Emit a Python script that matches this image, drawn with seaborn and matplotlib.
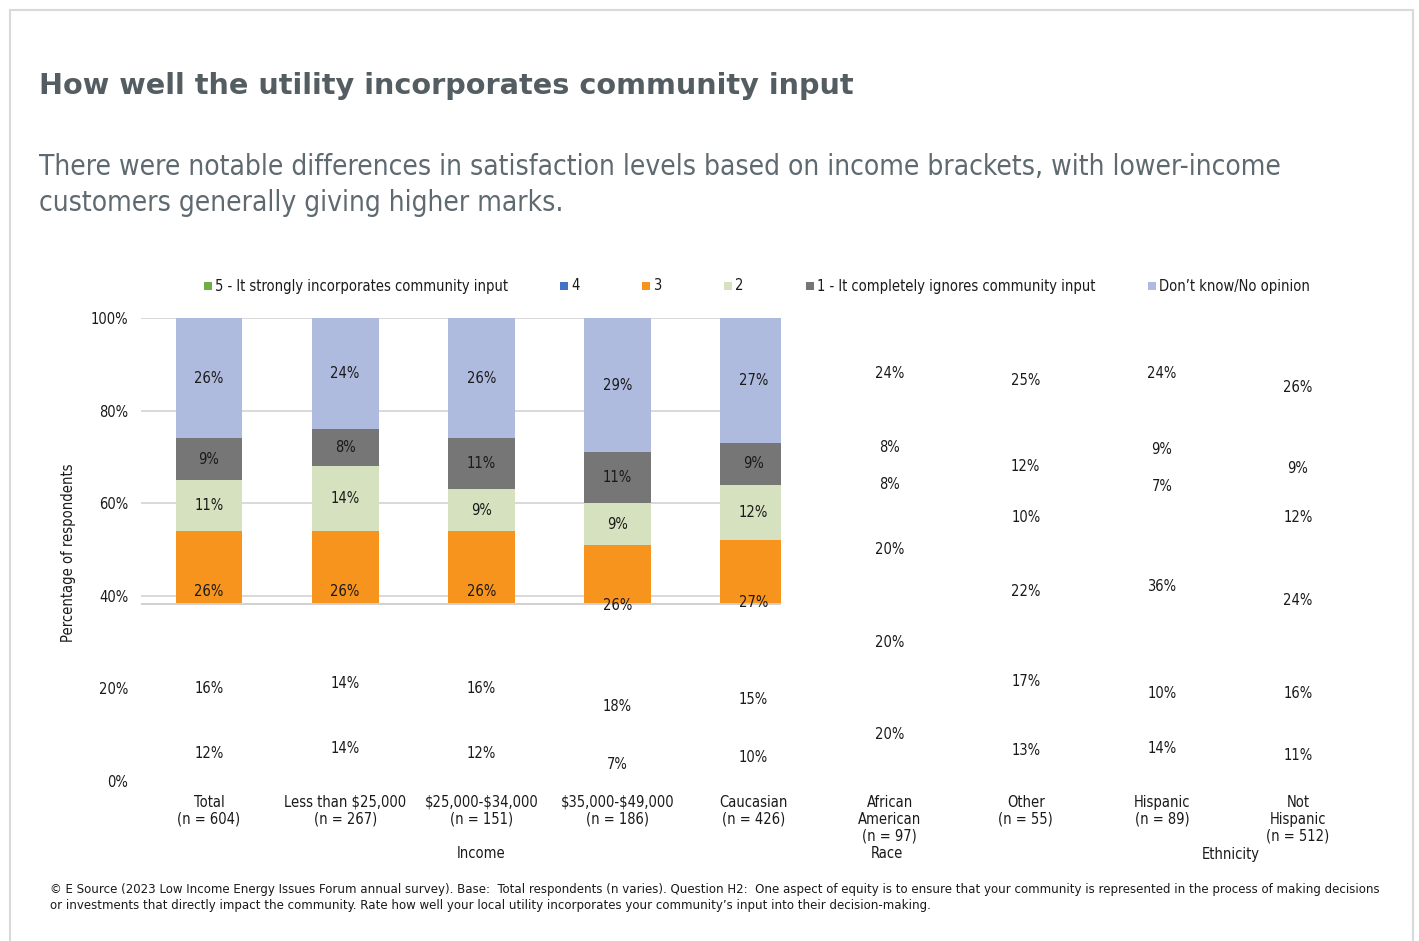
import numpy as np
import pandas as pd
import matplotlib
matplotlib.use("Agg")
import matplotlib.pyplot as plt
import seaborn as sns
from matplotlib.patches import Rectangle

# ---- data -------------------------------------------------------------
categories = [
    "Total\n(n = 604)",
    "Less than \\$25,000\n(n = 267)",
    "\\$25,000-\\$34,000\n(n = 151)",
    "\\$35,000-\\$49,000\n(n = 186)",
    "Caucasian\n(n = 426)",
    "African\nAmerican\n(n = 97)",
    "Other\n(n = 55)",
    "Hispanic\n(n = 89)",
    "Not\nHispanic\n(n = 512)",
]
series_names = [
    "5 - It strongly incorporates community input",
    "4",
    "3",
    "2",
    "1 - It completely ignores community input",
    "Don\u2019t know/No opinion",
]
rating5 = [12, 14, 12, 7, 10, 20, 13, 14, 11]
rating4 = [16, 14, 16, 18, 15, 20, 17, 10, 16]
rating3 = [26, 26, 26, 26, 27, 20, 22, 36, 24]
rating2 = [11, 14, 9, 9, 12, 8, 10, 7, 12]
rating1 = [9, 8, 11, 11, 9, 8, 12, 9, 9]
dont_know = [26, 24, 26, 29, 27, 24, 25, 24, 26]
group_labels = ["Income", "Race", "Ethnicity"]

colors = ["#70AD47", "#4472C4", "#F7941D", "#D6E1BF", "#767676", "#AFBADF"]

series = [rating5, rating4, rating3, rating2, rating1, dont_know]

# ---- figure -----------------------------------------------------------
W, H = 1419, 941
fig = plt.figure(figsize=(W / 100, H / 100), dpi=100)
fig.patch.set_facecolor("white")

def fx(px):
    return px / W

def fy(py):
    return 1 - py / H

# outer frame
fig.add_artist(Rectangle((fx(10), fy(945)), fx(1413) - fx(10), fy(10) - fy(945),
                         transform=fig.transFigure, fill=False,
                         edgecolor="#D9D9D9", linewidth=1.5))

FONT = dict(family="DejaVu Sans", stretch="condensed")
TXT = "#1A1A1A"

ax = fig.add_axes([fx(141), fy(781), fx(1366) - fx(141), fy(318) - fy(781)])
ax.set_facecolor("none")

n = len(categories)
names = [f"c{i}" for i in range(n)]
cum = np.cumsum(np.array(series), axis=0)

# stacked bars: draw cumulative totals from the top layer down
for k in range(len(series) - 1, -1, -1):
    df = pd.DataFrame({"cat": names, "val": cum[k]})
    sns.barplot(data=df, x="cat", y="val", order=names, color=colors[k],
                saturation=1, width=0.49, linewidth=0, ax=ax)

# plot region visible inside the chart frame
clip_left, clip_right, clip_bottom, clip_top = -0.5, 4.2, 38.3, 100
clip = Rectangle((clip_left, clip_bottom), clip_right - clip_left,
                 clip_top - clip_bottom, transform=ax.transData)
for p in ax.patches:
    p.set_clip_path(clip)

ax.set_xlim(-0.5, n - 0.5)
ax.set_ylim(0, 100)

# gridlines and base line
for g in [40, 60, 80, 100]:
    ax.plot([clip_left, clip_right], [g, g], color="#D9D9D9", lw=1.4,
            zorder=0.5, solid_capstyle="butt")
ax.plot([clip_left, clip_right], [clip_bottom, clip_bottom], color="#D0D0D0",
        lw=1.4, zorder=3, solid_capstyle="butt")

# value labels
for i in range(n):
    for k in range(len(series)):
        v = series[k][i]
        center = cum[k][i] - v / 2
        ax.text(i, center, f"{v}%", ha="center", va="center", fontsize=10.5,
                color=TXT, zorder=5, **FONT)

for s in ax.spines.values():
    s.set_visible(False)
ax.set_yticks([0, 20, 40, 60, 80, 100])
ax.set_yticklabels([f"{t}%" for t in [0, 20, 40, 60, 80, 100]], fontsize=10.5,
                   color=TXT, fontstretch="condensed")
ax.set_xticks(range(n))
ax.set_xticklabels(categories, fontsize=10.5, color=TXT, fontstretch="condensed",
                   linespacing=1.15, va="top")
ax.tick_params(axis="both", length=0)
ax.tick_params(axis="y", pad=9)
ax.tick_params(axis="x", pad=10)
ax.set_xlabel("")
ax.set_ylabel("")
ax.grid(False)

fig.text(fx(69), fy(553), "Percentage of respondents", rotation=90,
         ha="center", va="center", fontsize=10.5, color=TXT, **FONT)

# group labels
for label, xpos in zip(group_labels, [481, 887, 1231]):
    fig.text(fx(xpos), fy(854), label, ha="center", va="center",
             fontsize=10.5, color=TXT, **FONT)

# legend
leg_x = [204, 560, 642, 724, 806, 1148]
for name, col, x in zip(series_names, colors, leg_x):
    fig.add_artist(Rectangle((fx(x), fy(290)), fx(8), 8 / H,
                             transform=fig.transFigure, facecolor=col,
                             edgecolor="none"))
    fig.text(fx(x + 11), fy(286), name, ha="left", va="center",
             fontsize=10.5, color=TXT, **FONT)

# title and subtitle
fig.text(fx(39), fy(86), "How well the utility incorporates community input",
         ha="left", va="center", fontsize=20.7, fontweight="bold",
         color="#535D62", family="DejaVu Sans")
fig.text(fx(39), fy(185),
         "There were notable differences in satisfaction levels based on income brackets, with lower-income\n"
         "customers generally giving higher marks.",
         ha="left", va="center", fontsize=20.2, color="#5F6A70",
         linespacing=1.33, **FONT)

# source note
fig.text(fx(50), fy(890),
         "\u00a9 E Source (2023 Low Income Energy Issues Forum annual survey). Base:  Total respondents (n varies). "
         "Question H2:  One aspect of equity is to ensure that your community is represented in the process of making decisions",
         ha="left", va="center", fontsize=9.45, color=TXT, **FONT)
fig.text(fx(50), fy(906),
         "or investments that directly impact the community. Rate how well your local utility "
         "incorporates your community\u2019s input into their decision-making.",
         ha="left", va="center", fontsize=9.45, color=TXT, **FONT)

fig.savefig("out.png", dpi=100)
